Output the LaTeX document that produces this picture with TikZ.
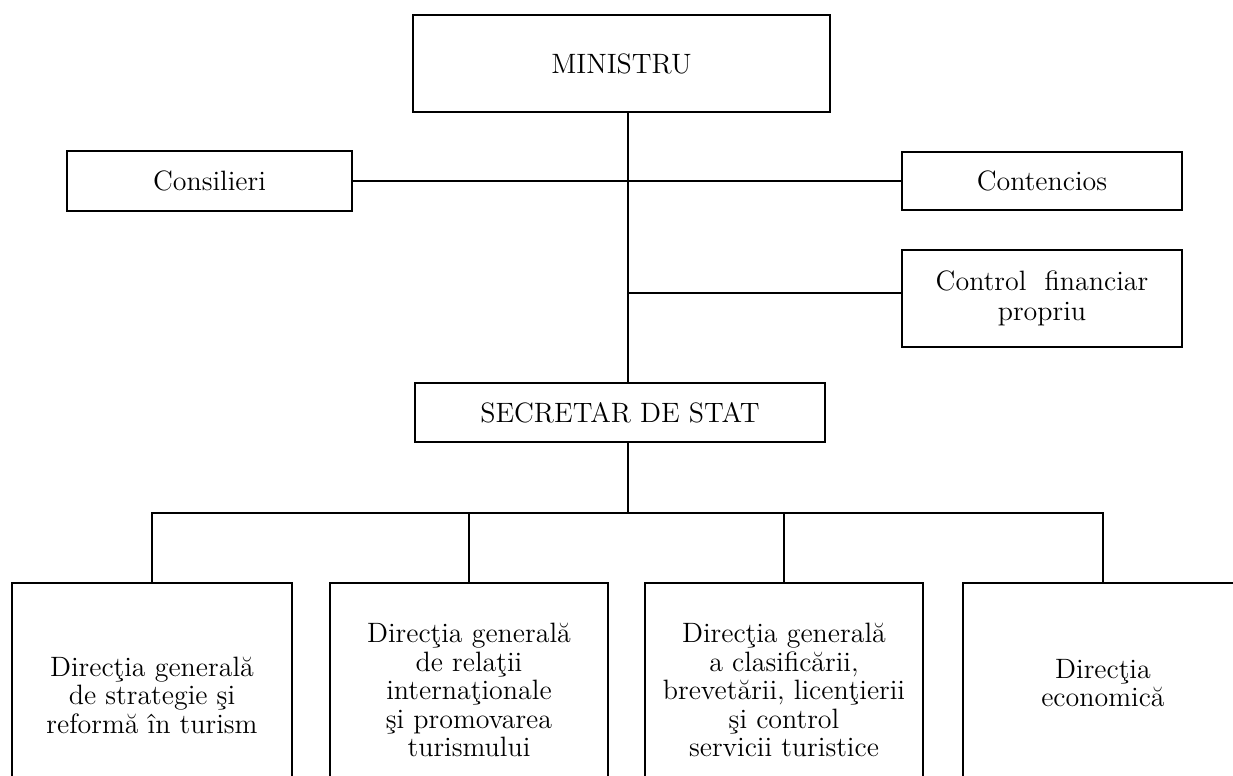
\documentclass[tikz,border=0pt]{standalone}
\tikzset{
  box/.style={draw, line width=1.1pt, rectangle, inner sep=0pt, align=center,
    font=\fontsize{14}{14.25}\selectfont},
  conn/.style={line width=1.2pt},
}
\begin{document}
\begin{tikzpicture}[x=0.5pt,y=-0.5pt]
\useasboundingbox (0,0) rectangle (1233,776);
\clip (0,0) rectangle (1233,776);
\coordinate (trunk) at (628,0);
\coordinate (bus) at (0,513);
\coordinate (fj) at (628,293);

\node[box, minimum width=208.5pt, minimum height=48.5pt] (M) at (621.5,63.5) {MINISTRU};
\node[box, minimum width=142.5pt, minimum height=30pt] (C) at (209.5,181) {Consilieri};
\node[box, minimum width=140pt, minimum height=29pt] (K) at (1042,181) {Contencios};
\node[box, minimum width=140pt, minimum height=48.5pt] (F) at (1042,298.5) {Control \ financiar\\[1pt]propriu};
\node[box, minimum width=205pt, minimum height=29.5pt] (S) at (620,412.5) {SECRETAR DE STAT};

\node[box, minimum width=140pt, minimum height=112pt] (b1) at (152,695)
  {Direcţia generală\\de strategie şi\\reformă în turism};
\node[box, minimum width=139pt, minimum height=107pt] (b2) at (469,690)
  {Direcţia generală\\de relaţii\\internaţionale\\şi promovarea\\turismului};
\node[box, minimum width=139pt, minimum height=107pt] (b3) at (784,690)
  {Direcţia generală\\a clasificării,\\brevetării, licenţierii\\şi control\\servicii turistice};
\node[box, minimum width=140pt, minimum height=100pt] (b4) at (1103,683)
  {Direcţia\\economică};

\draw[conn] (M.south -| trunk) -- (S.north -| trunk);
\draw[conn] (C.east) -- (K.west);
\draw[conn] (fj) -- (fj -| F.west);
\draw[conn] (S.south -| trunk) -- (bus -| trunk);
\draw[conn] (b1.north) -- (b1.north |- bus) -- (b4.north |- bus) -- (b4.north);
\draw[conn] (b2.north) -- (b2.north |- bus);
\draw[conn] (b3.north) -- (b3.north |- bus);
\end{tikzpicture}
\end{document}
